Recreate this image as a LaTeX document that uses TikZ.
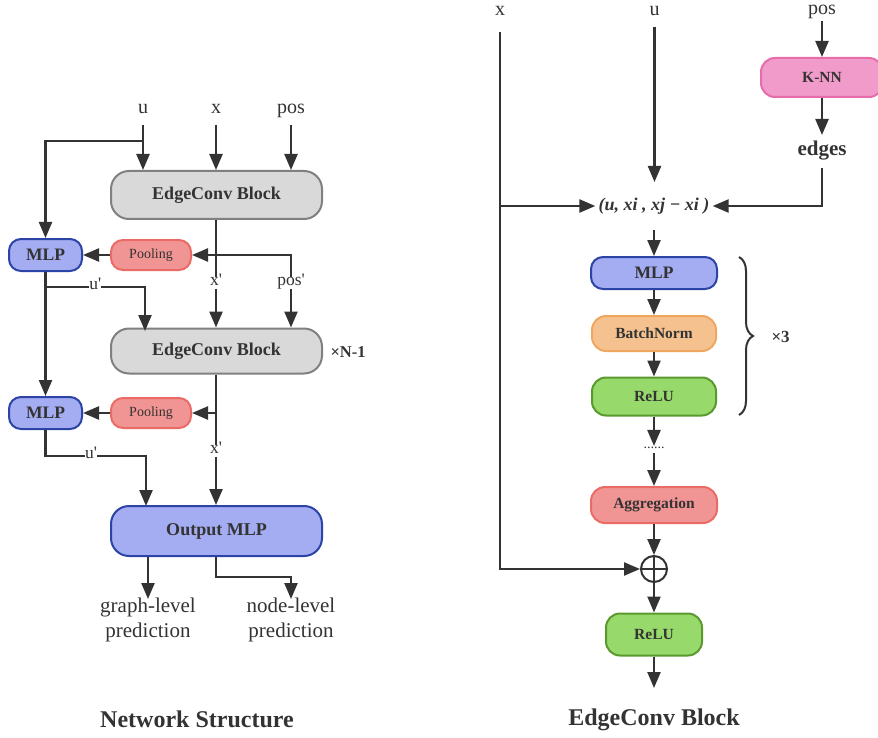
\documentclass[tikz,border=0pt]{standalone}
\usepackage{fontspec}
\setmainfont{Liberation Serif}
\usetikzlibrary{arrows.meta,decorations.pathreplacing}
\definecolor{ink}{HTML}{333333}
\definecolor{greyfill}{HTML}{D9D9D9}
\definecolor{greydraw}{HTML}{808080}
\definecolor{bluefill}{HTML}{A4ACF2}
\definecolor{bluedraw}{HTML}{2C44A6}
\definecolor{redfill}{HTML}{F19594}
\definecolor{reddraw}{HTML}{EA6B66}
\definecolor{pinkfill}{HTML}{F09BC9}
\definecolor{pinkdraw}{HTML}{E66CAA}
\definecolor{orangefill}{HTML}{F5C28F}
\definecolor{orangedraw}{HTML}{EEA660}
\definecolor{greenfill}{HTML}{97D96B}
\definecolor{greendraw}{HTML}{5A992E}
\newcommand{\fs}[1]{\fontsize{#1}{#1}\selectfont}
\newcommand{\q}{\textquotesingle}
\begin{document}
\begin{tikzpicture}[x=1pt,y=-1pt,
  ln/.style={draw=ink,line width=2.3pt},
  arr/.style={ln,-{Triangle[length=16pt,width=13pt]}},
  box/.style={draw,line width=2pt,rounded corners=#1,inner sep=0pt,text=ink,font=\bfseries\fs{17.5}},
  box/.default=12pt,
  greyb/.style={box=18pt,fill=greyfill,draw=greydraw,minimum width=211pt,font=\bfseries\fs{18}},
  blueb/.style={box,fill=bluefill,draw=bluedraw},
  poolb/.style={box,fill=redfill,draw=reddraw,font=\fs{14},minimum width=80pt,minimum height=30pt},
  lbl/.style={text=ink,inner sep=1pt,text height=0.68em,text depth=0.22em,font=\fs{20}},
  sml/.style={text=ink,inner sep=1pt,text height=0.68em,text depth=0.22em,font=\fs{17.5},fill=white}
]
\useasboundingbox (0,0) rectangle (878,738);

% ================= Left: Network Structure =================
\node[lbl] (u) at (143,111) {u};
\node[lbl] (x) at (216,111) {x};
\node[lbl] (pos) at (291,111) {pos};
\node[greyb,minimum height=48pt] (ec1) at (216.5,195) {EdgeConv Block};
\node[blueb,minimum width=73pt,minimum height=32pt] (mlp1) at (45.5,255) {MLP};
\node[poolb] (pool1) at (151,255) {Pooling};
\node[sml] (xp1) at (216,283) {x\q};
\node[sml] (posp) at (291,283) {pos\q};
\node[greyb,minimum height=45pt] (ec2) at (216.5,351) {EdgeConv Block};
\node[text=ink,font=\bfseries\fs{16.5},anchor=west] (nm1) at (327,352) {×N-1};
\node[blueb,minimum width=73pt,minimum height=32pt] (mlp2) at (45.5,413) {MLP};
\node[poolb] (pool2) at (151,413) {Pooling};
\node[sml] (xp2) at (216,451) {x\q};
\node[blueb,box=18pt,minimum width=211pt,minimum height=50pt,font=\bfseries\fs{18}] (out) at (216.5,531) {Output MLP};
\node[text=ink,font=\fs{21},align=center,inner sep=0pt] (gl) at (148,620) {graph-level\\[4pt]prediction};
\node[text=ink,font=\fs{21},align=center,inner sep=0pt] (nl) at (291,620) {node-level\\[4pt]prediction};
\node[text=ink,font=\bfseries\fs{24}] (t1) at (197,719) {Network Structure};

\coordinate (ub) at (143,141);
\draw[arr,shorten <=8pt] (u.south) -- (u |- ec1.north);
\draw[arr] (ub) -| (mlp1.north);
\draw[arr,shorten <=8pt] (x.south) -- (x |- ec1.north);
\draw[arr,shorten <=8pt] (pos.south) -- (pos |- ec1.north);
\draw[ln] (ec1.south -| xp1) -- (xp1.north);
\draw[arr] (posp.north) |- (pool1.east);
\draw[arr] (pool1.west) -- (mlp1.east);
\draw[arr] (xp1.south) -- (xp1 |- ec2.north);
\draw[arr] (posp.south) -- (posp |- ec2.north);
\coordinate (ua) at (45.5,287);
\draw[arr] (mlp1.south) -- (mlp2.north);
\draw[arr] (ua) -| (145,331) node[sml,pos=0.25,inner sep=0pt] (up1) {u\q};
\draw[ln] (ec2.south -| xp2) -- (xp2.north);
\draw[arr] (ec2.south -| xp2) |- (pool2.east);
\draw[arr] (pool2.west) -- (mlp2.east);
\draw[arr] (xp2.south) -- (xp2 |- out.north);
\draw[arr] (mlp2.south) |- (146,456) -- (146,506) node[sml,pos=0,inner sep=0pt,xshift=-55pt] (up2) {u\q};
\draw[arr] (out.south -| gl) -- ++(0,42);
\draw[arr] (out.south -| xp2) |- (291,577) -- (291,599);

% ================= Right: EdgeConv Block =================
\node[lbl] (rx) at (500,13) {x};
\node[lbl] (ru) at (654.5,13) {u};
\node[lbl] (rpos) at (822,12) {pos};
\node[box=14pt,fill=pinkfill,draw=pinkdraw,minimum width=122pt,minimum height=39pt,font=\bfseries\fs{15.5}] (knn) at (822,77.5) {K-NN};
\node[text=ink,font=\bfseries\fs{21},inner sep=1pt,text height=0.68em,text depth=0.22em] (edges) at (822,153) {edges};
\node[text=ink,font=\bfseries\itshape\fs{18},inner sep=3pt] (tup) at (654,206) {(u, xi , xj − xi )};
\node[blueb,minimum width=126pt,minimum height=32pt] (rmlp) at (654,273) {MLP};
\node[box=14pt,fill=orangefill,draw=orangedraw,minimum width=124pt,minimum height=35pt,font=\bfseries\fs{15.5}] (bn) at (654,333.5) {BatchNorm};
\node[box=14pt,fill=greenfill,draw=greendraw,minimum width=124pt,minimum height=38pt,font=\bfseries\fs{15.5}] (relu1) at (654,396.5) {ReLU};
\node[text=ink,font=\fs{14},inner sep=1pt] (dots) at (654,448) {......};
\node[box=14pt,fill=redfill,draw=reddraw,minimum width=126pt,minimum height=36pt,font=\bfseries\fs{15.5}] (agg) at (654,505) {Aggregation};
\node[circle,draw=ink,line width=2pt,minimum size=26pt,inner sep=0pt] (op) at (654,569) {};
\draw[draw=ink,line width=2pt] (op.north) -- (op.south) (op.west) -- (op.east);
\node[box=14pt,fill=greenfill,draw=greendraw,minimum width=96pt,minimum height=42pt,font=\bfseries\fs{15.5}] (relu2) at (654,634.5) {ReLU};
\coordinate (rend) at (654,688);
\node[text=ink,font=\bfseries\fs{17},anchor=west] (x3) at (768,337) {×3};
\node[text=ink,font=\bfseries\fs{24}] (t2) at (654,720) {EdgeConv Block};

\draw[decorate,decoration={brace,amplitude=14pt},draw=ink,line width=2pt] (739,257) -- (739,415);

\coordinate (rxs) at (500,32);
\draw[arr] (rxs) |- (op.west);
\draw[arr] (rxs |- tup) -- (tup.west);
\draw[arr,shorten <=8pt] (ru.south) -- (ru |- 0,182);
\draw[arr,shorten <=3pt] (rpos.south) -- (knn.north);
\draw[arr] (knn.south) -- ++(0,37);
\draw[arr,shorten <=9pt] (edges.south) |- (tup.east);
\draw[arr] (654,230) -- (rmlp.north);
\draw[arr] (rmlp.south) -- (bn.north);
\draw[arr] (bn.south) -- (relu1.north);
\draw[arr] (relu1.south) -- (dots.north);
\draw[arr,shorten <=3pt] (dots.south) -- (agg.north);
\draw[arr] (agg.south) -- (op.north);
\draw[arr] (op.south) -- (relu2.north);
\draw[arr] (relu2.south) -- (rend);
\end{tikzpicture}
\end{document}
